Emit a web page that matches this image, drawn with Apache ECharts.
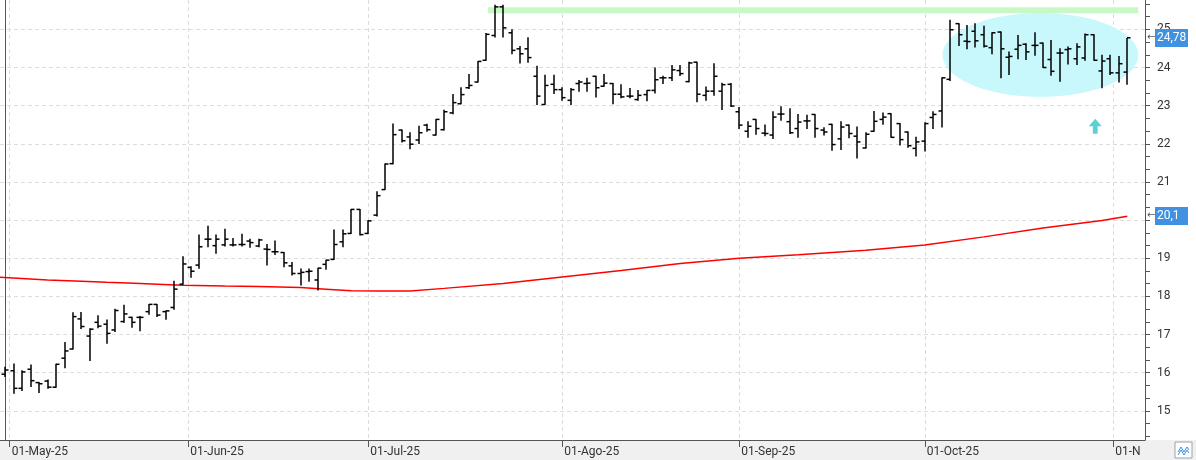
<!DOCTYPE html>
<html>
<head>
<meta charset="utf-8">
<script src="https://cdn.jsdelivr.net/npm/echarts/dist/echarts.min.js"></script>
<style>
  html, body { margin: 0; padding: 0; background: #fff; }
  #chart { width: 1196px; height: 460px; }
</style>
</head>
<body>
<div id="chart"></div>
<script>
// daily bars, 30-Apr-25 .. 04-Nov-25 (trading days)
var opens = [15.96,16.05,15.59,16.09,15.74,15.78,15.62,16.38,16.62,17.41,16.96,17.32,17.27,17.12,17.34,17.45,17.45,17.60,17.79,17.60,
  17.71,18.32,18.76,18.82,19.50,19.33,19.35,19.35,19.36,19.45,19.32,19.24,19.17,19.15,18.80,18.60,18.65,18.43,18.84,18.97,
  19.43,19.65,20.28,19.65,20.13,20.80,21.48,22.36,22.18,22.10,22.49,22.23,22.37,22.81,23.05,23.47,23.62,24.19,24.84,25.59,
  24.91,24.49,24.49,23.77,23.03,23.56,23.42,23.14,23.58,23.58,23.77,23.51,23.58,23.30,23.25,23.16,23.29,23.40,23.73,23.73,
  23.92,23.63,24.14,23.27,23.38,23.38,23.56,22.84,22.33,22.64,22.28,22.23,22.78,22.58,22.40,22.60,22.77,22.36,22.51,22.13,
  22.49,22.20,21.89,22.33,22.64,22.79,22.53,22.31,21.88,22.07,22.69,22.86,23.69,25.15,24.69,24.95,24.86,24.52,24.93,24.27,
  24.48,24.61,24.58,24.64,24.21,24.38,24.47,24.23,24.25,24.86,23.91,24.23,23.86,23.88];
var highs = [16.14,16.23,16.05,16.20,15.74,15.81,16.22,16.79,17.57,17.58,17.15,17.49,17.38,17.66,17.77,17.45,17.47,17.79,17.79,17.62,
  18.40,19.04,18.78,19.61,19.84,19.61,19.76,19.52,19.63,19.50,19.50,19.36,19.45,19.15,18.89,18.72,18.72,18.74,18.95,19.74,
  19.74,20.28,20.28,19.98,20.74,21.47,22.52,22.36,22.29,22.46,22.51,22.64,22.88,23.29,23.47,23.82,24.16,24.89,25.63,25.63,
  24.99,24.55,24.78,24.03,23.80,23.80,23.47,23.45,23.66,23.72,23.77,23.82,23.58,23.55,23.45,23.40,23.40,23.99,23.77,24.05,
  24.05,24.14,24.14,23.49,24.10,23.59,23.58,22.95,22.58,22.64,22.49,22.84,22.97,22.92,22.77,22.75,22.77,22.42,22.51,22.58,
  22.49,22.44,22.29,22.85,22.81,22.79,22.53,22.31,22.17,22.55,22.84,23.73,25.24,25.15,25.10,25.15,25.08,24.91,24.93,24.41,
  24.84,24.62,24.91,24.64,24.71,24.49,24.54,24.62,24.88,24.86,24.32,24.32,24.29,24.76];
var lows = [15.90,15.46,15.53,15.64,15.48,15.59,15.62,16.13,16.62,17.16,16.32,17.18,16.77,17.08,17.32,17.19,17.10,17.53,17.47,17.40,
  17.66,18.32,18.50,18.74,19.30,19.13,19.32,19.32,19.32,19.29,19.30,18.82,19.10,18.78,18.56,18.30,18.40,18.17,18.71,18.97,
  19.30,19.65,19.61,19.65,20.11,20.80,21.48,22.05,21.87,22.01,22.33,22.23,22.36,22.79,23.05,23.45,23.62,24.19,24.80,24.80,
  24.36,24.12,24.14,23.03,23.03,23.32,23.14,23.03,23.38,23.38,23.23,23.51,23.05,23.21,23.21,23.14,23.13,23.33,23.58,23.66,
  23.79,23.63,23.10,23.14,23.27,22.90,22.98,22.40,22.17,22.25,22.21,22.14,22.62,22.27,22.17,22.40,22.17,22.23,21.83,21.85,
  22.16,21.63,21.89,22.33,22.51,22.17,21.97,21.91,21.68,21.81,22.40,22.44,23.66,24.58,24.49,24.54,24.54,24.36,23.73,23.82,
  24.23,24.21,24.32,24.00,23.80,23.64,24.09,24.08,24.19,24.19,23.47,23.82,23.62,23.56];
var closes = [16.07,15.59,16.02,15.79,15.71,15.62,16.22,16.57,17.47,17.21,17.14,17.22,17.03,17.63,17.54,17.32,17.45,17.79,17.51,17.62,
  18.19,18.85,18.66,19.30,19.50,19.50,19.50,19.35,19.36,19.41,19.48,19.23,19.17,18.88,18.60,18.63,18.66,18.74,18.95,19.36,
  19.64,20.28,19.62,19.98,20.64,21.47,22.24,22.08,21.99,22.29,22.37,22.64,22.84,23.08,23.29,23.53,24.16,24.87,25.59,25.04,
  24.45,24.36,24.26,23.25,23.53,23.42,23.21,23.42,23.62,23.59,23.47,23.59,23.30,23.23,23.25,23.27,23.40,23.68,23.73,23.94,
  23.84,24.12,23.30,23.38,23.77,23.55,22.99,22.49,22.46,22.40,22.27,22.70,22.78,22.29,22.57,22.60,22.40,22.31,21.98,22.44,
  22.27,22.05,22.25,22.59,22.70,22.17,22.11,21.95,22.05,22.53,22.77,23.73,24.99,24.86,24.68,24.70,24.56,24.91,24.49,24.29,
  24.58,24.41,24.58,24.00,23.90,24.38,24.49,24.54,24.86,24.19,24.17,23.86,24.10,24.78];

// moving average: bar index -> value
var maIdx  = [-0.65, 5, 9, 12, 16, 18, 21, 26, 30, 35, 38, 41, 44, 48, 52, 59, 66, 73, 80, 87, 94, 102, 109, 116, 123, 130, 133];
var maVals = [18.50, 18.43, 18.40, 18.37, 18.34, 18.32, 18.29, 18.27, 18.26, 18.23, 18.19, 18.15, 18.14, 18.14, 18.21, 18.34,
  18.51, 18.68, 18.86, 19.00, 19.09, 19.21, 19.35, 19.56, 19.79, 19.99, 20.10];

var monthStarts = ['2025-05-01', '2025-06-01', '2025-07-01', '2025-08-01', '2025-09-01', '2025-10-01', '2025-11-01'];
var monthLabels = ['01-May-25', '01-Jun-25', '01-Jul-25', '01-Ago-25', '01-Sep-25', '01-Oct-25', '01-N'];
var yLabels = [15, 16, 17, 18, 19, 20, 21, 22, 23, 24, 25];

// drawn annotations (data units)
var resistLevel = 25.5, resistFrom = 57.2, resistTo = 134.3;
var zoneX = [111.1, 134.3], zoneY = [23.23, 25.43];
var arrowAt = [129.2, 22.46];

var holidays = ['2025-05-01'];
function day(s) { return Date.parse(s + 'T00:00:00Z'); }
var dates = [];
for (var t = day('2025-04-30'); t <= day('2025-11-04'); t += 86400000) {
  var d = new Date(t), wd = d.getUTCDay();
  var s = d.toISOString().slice(0, 10);
  if (wd !== 0 && wd !== 6 && holidays.indexOf(s) < 0) dates.push(t);
}
// month start position on the bar index scale
var monthPos = monthStarts.map(function (s) {
  var m = day(s);
  for (var k = 0; k < dates.length - 1; k++) {
    if (dates[k] === m) return k;
    if (dates[k] < m && dates[k + 1] > m) return k + (m - dates[k]) / (dates[k + 1] - dates[k]);
  }
  return k;
});

var bars = opens.map(function (o, i) { return [i, o, highs[i], lows[i], closes[i]]; });
var maLine = maIdx.map(function (i, k) { return [i, maVals[k]]; });
var thirds = [];
for (var q = 43; q <= 77; q++) thirds.push(q / 3);

var font = 'Roboto, "Liberation Sans", sans-serif';
var chart = echarts.init(document.getElementById('chart'));

chart.setOption({
  animation: false,
  backgroundColor: '#fff',
  grid: { left: 0, right: 51, top: 0, bottom: 20 },
  graphic: [
    { id: 'band', type: 'rect', z: -10, shape: { x: 0, y: 440, width: 1196, height: 20 }, style: { fill: '#f0f0f0' } },
    { id: 'btn', type: 'rect', z: 10, shape: { x: 1175, y: 442, width: 17, height: 16 }, style: { fill: '#fff', stroke: '#a0a0a0', lineWidth: 1 } },
    { id: 'ic1', type: 'polyline', z: 11, shape: { points: [[1178, 452], [1181, 447], [1184, 452], [1187, 447], [1189, 450]] }, style: { stroke: '#3b8de0', lineWidth: 1, fill: null } },
    { id: 'ic2', type: 'polyline', z: 11, shape: { points: [[1178, 455], [1181, 450], [1184, 455], [1187, 450], [1189, 453]] }, style: { stroke: '#3b8de0', lineWidth: 1, fill: null } }
  ],
  xAxis: {
    type: 'value', min: -0.65, max: 135.1,
    axisLine: { show: true, lineStyle: { color: '#555', width: 1 } },
    axisTick: { show: true, length: 7, customValues: monthPos, lineStyle: { color: '#555' } },
    axisLabel: {
      customValues: monthPos, align: 'left', margin: 6, padding: [0, 0, 0, 2],
      color: '#333', fontSize: 12, fontFamily: font,
      formatter: function (v) {
        var best = 0;
        monthPos.forEach(function (p, k) { if (Math.abs(p - v) < Math.abs(monthPos[best] - v)) best = k; });
        return monthLabels[best];
      }
    },
    splitLine: { show: true, lineStyle: { color: '#dcdcdc', type: [4, 3] } }
  },
  yAxis: [{
    type: 'value', position: 'right', min: 14.235, max: 25.77,
    axisLine: { show: true, lineStyle: { color: '#555' } },
    axisTick: { show: false, customValues: yLabels },
    axisLabel: { customValues: yLabels, margin: 12, color: '#333', fontSize: 12, fontFamily: font },
    splitLine: { show: true, lineStyle: { color: '#dcdcdc', type: [4, 3] } }
  }, {
    type: 'value', position: 'right', min: 14.235, max: 25.77,
    axisLine: { show: true, lineStyle: { color: '#555' } },
    axisTick: { show: true, length: 5, customValues: thirds, lineStyle: { color: '#555' } },
    axisLabel: { show: false },
    splitLine: { show: false }
  }],
  series: [
    {
      name: 'zone', type: 'custom', z: 1, silent: true,
      data: [[zoneX[0], zoneY[0], zoneX[1], zoneY[1]]],
      encode: { x: [0, 2], y: [1, 3] },
      renderItem: function (params, api) {
        var p0 = api.coord([api.value(0), api.value(1)]);
        var p1 = api.coord([api.value(2), api.value(3)]);
        var cx = (p0[0] + p1[0]) / 2, cy = (p0[1] + p1[1]) / 2;
        var rx = Math.abs(p1[0] - p0[0]) / 2, ry = Math.abs(p1[1] - p0[1]) / 2;
        var pts = [];
        for (var a = 0; a < 96; a++) {
          var th = a / 96 * Math.PI * 2;
          pts.push([cx + rx * Math.cos(th), cy + ry * Math.sin(th)]);
        }
        return { type: 'polygon', shape: { points: pts }, style: { fill: '#c9f8fc' } };
      }
    },
    {
      name: 'resistance', type: 'line', z: 1, silent: true, symbol: 'none',
      data: [[resistFrom, resistLevel], [resistTo, resistLevel]],
      lineStyle: { color: '#c8f8c4', width: 6 }
    },
    {
      name: 'MA', type: 'line', z: 3, symbol: 'none', silent: true,
      data: maLine,
      lineStyle: { color: '#ff0000', width: 1.5 }
    },
    {
      name: 'OHLC', type: 'custom', z: 4,
      data: bars,
      encode: { x: 0, y: [1, 2, 3, 4] },
      renderItem: function (params, api) {
        var i = api.value(0);
        var pO = api.coord([i, api.value(1)]);
        var pH = api.coord([i, api.value(2)]);
        var pL = api.coord([i, api.value(3)]);
        var pC = api.coord([i, api.value(4)]);
        var x = Math.round(pH[0]);
        var st = { stroke: '#000', lineWidth: 1.5 };
        return {
          type: 'group',
          children: [
            { type: 'line', shape: { x1: x, y1: pH[1] - 0.5, x2: x, y2: pL[1] + 0.5 }, style: st },
            { type: 'line', shape: { x1: x - 3.5, y1: pO[1], x2: x, y2: pO[1] }, style: st },
            { type: 'line', shape: { x1: x, y1: pC[1], x2: x + 3.5, y2: pC[1] }, style: st }
          ]
        };
      }
    },
    {
      name: 'arrow', type: 'scatter', z: 5, silent: true,
      data: [arrowAt],
      symbol: 'path://M6,0L12,7L8.2,7L8.2,14L3.8,14L3.8,7L0,7Z',
      symbolSize: [13, 15],
      itemStyle: { color: '#33c6c6' }
    }
  ]
});

// last-value tags on the price scale, placed through the y axis
var axisX = chart.convertToPixel({ xAxisIndex: 0 }, 135.1);
function priceTag(id, v) {
  var y = Math.round(chart.convertToPixel({ yAxisIndex: 0 }, v));
  return [
    { id: id + 'Arr', type: 'text', z: 30, x: axisX + 2, y: y - 6,
      style: { text: '\u2190', fill: '#555', font: '10px "DejaVu Sans"' } },
    { id: id + 'Box', type: 'rect', z: 30, shape: { x: axisX + 10, y: y - 9, width: 33, height: 18 },
      style: { fill: '#4191e1' } },
    { id: id + 'Txt', type: 'text', z: 31, x: axisX + 12, y: y - 6,
      style: { text: String(v).replace('.', ','), fill: '#ffffff', font: '12px Roboto' } }
  ];
}
chart.setOption({
  graphic: priceTag('tagClose', closes[closes.length - 1]).concat(priceTag('tagMa', maVals[maVals.length - 1]))
});
</script>
</body>
</html>
